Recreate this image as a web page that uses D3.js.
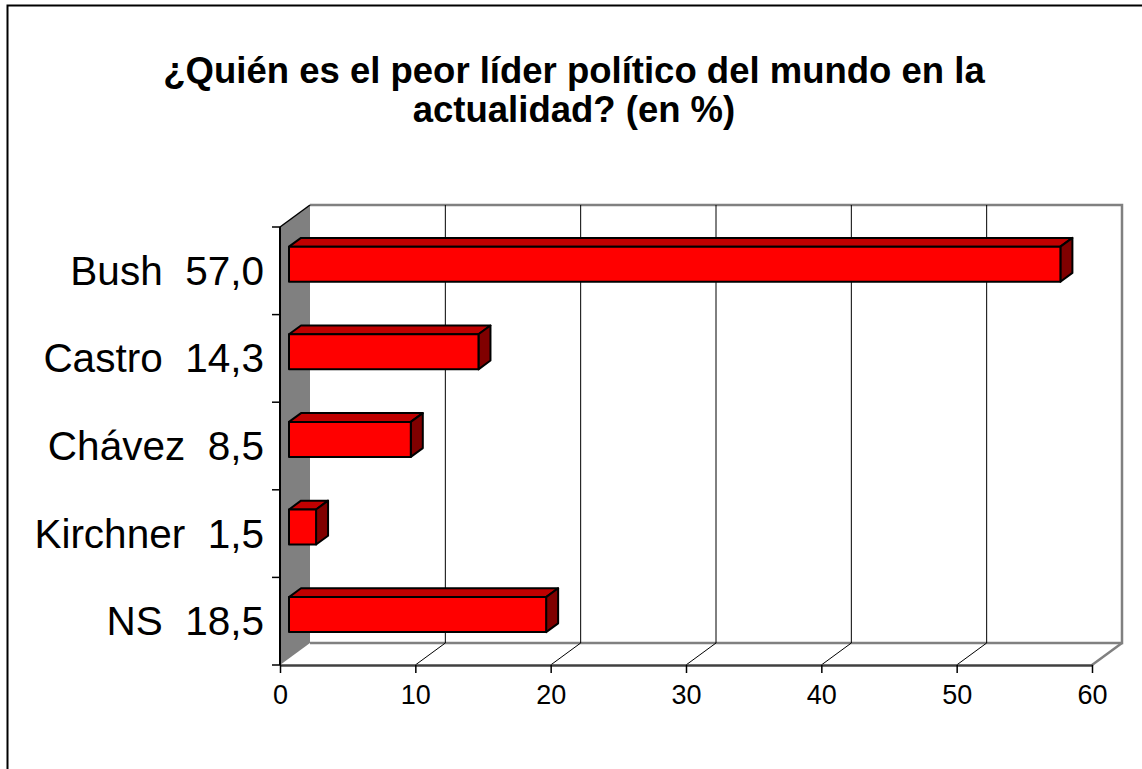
<!DOCTYPE html>
<html lang='es'>
<head>
    <meta charset='UTF-8'>
    <title>Peor líder político</title>
    <style>
        body { margin: 0; background: #fff; }
        svg { display: block; font-family: 'Liberation Sans', Arial, sans-serif; }
        .cat-label { font-size: 40.5px; white-space: pre; }
        .tick text { font-size: 27px; }
    </style>
</head>
<body>
    <div id="chart"></div>
    <script src='https://d3js.org/d3.v7.min.js'></script>
    <script>
        // data
        const categories = ['Bush', 'Castro', 'Chávez', 'Kirchner', 'NS']
        const labelValues = ['57,0', '14,3', '8,5', '1,5', '18,5']
        const barValues = [57, 14, 9, 2, 19]
        const xTicks = [0, 10, 20, 30, 40, 50, 60]
        const titleLines = ['¿Quién es el peor líder político del mundo en la', 'actualidad? (en %)']

        const width = 1142
        const height = 769
        const depth = [30, -22] // offset of back wall vs front plane
        const barFront = 0.3, barBack = 0.7 // bar depth inside the plot box

        const svg = d3.select('#chart').append('svg')
            .attr('width', width)
            .attr('height', height)

        // outer frame
        svg.append('rect')
            .attr('x', 7.5).attr('y', 5.5)
            .attr('width', width + 20).attr('height', height + 20)
            .attr('fill', '#fff').attr('stroke', '#000').attr('stroke-width', 2)

        svg.append('g').selectAll('text')
            .data(titleLines)
            .join('text')
            .attr('x', 574)
            .attr('y', (_, i) => 83 + i * 39)
            .attr('text-anchor', 'middle')
            .attr('font-weight', 'bold')
            .attr('font-size', 36.5)
            .text(d => d)

        const x = d3.scaleLinear().domain([0, 60]).range([280, 1092])
        const y = d3.scaleBand().domain(categories).range([227, 665])
            .paddingInner(0.6).paddingOuter(0.3)

        const x0 = x.range()[0], x1 = x.range()[1]
        const yTop = y.range()[0], yBot = y.range()[1]
        const [dx, dy] = depth
        const pt = (px, py, z) => [px + dx * z, py + dy * z]

        // left wall
        svg.append('polygon')
            .attr('points', [pt(x0, yTop, 0), pt(x0, yTop, 1), pt(x0, yBot, 1), pt(x0, yBot, 0)].join(' '))
            .attr('fill', '#808080')

        // back wall border (gray)
        svg.append('polyline')
            .attr('points', [pt(x0, yTop, 1), pt(x1, yTop, 1), pt(x1, yBot, 1), pt(x0, yBot, 1)].join(' '))
            .attr('fill', 'none').attr('stroke', '#808080').attr('stroke-width', 2.5)

        // floor edges
        svg.append('polyline')
            .attr('points', [pt(x1, yBot, 1), pt(x1, yBot, 0)].join(' '))
            .attr('fill', 'none').attr('stroke', '#808080').attr('stroke-width', 2.5)

        // gridlines on back wall and floor
        const inner = xTicks.filter(t => t > 0 && t < 60)
        svg.append('g').selectAll('line')
            .data(inner)
            .join('line')
            .attr('x1', d => x(d) + dx).attr('x2', d => x(d) + dx)
            .attr('y1', yTop + dy).attr('y2', yBot + dy)
            .attr('stroke', '#000').attr('stroke-width', 1)
        svg.append('g').selectAll('line')
            .data(inner)
            .join('line')
            .attr('x1', d => x(d)).attr('y1', yBot)
            .attr('x2', d => x(d) + dx).attr('y2', yBot + dy)
            .attr('stroke', '#000').attr('stroke-width', 1)

        // left wall top edge
        svg.append('line')
            .attr('x1', x0).attr('y1', yTop)
            .attr('x2', x0 + dx).attr('y2', yTop + dy)
            .attr('stroke', '#000').attr('stroke-width', 1.5)

        // bars
        const bh = y.bandwidth()
        const bars = svg.append('g').selectAll('g')
            .data(categories.map((c, i) => ({ c, v: barValues[i] })))
            .join('g')
            .attr('stroke', '#000').attr('stroke-width', 2).attr('stroke-linejoin', 'round')

        bars.append('polygon') // top face
            .attr('fill', '#c00000')
            .attr('points', d => [pt(x(0), y(d.c), barFront), pt(x(0), y(d.c), barBack),
                pt(x(d.v), y(d.c), barBack), pt(x(d.v), y(d.c), barFront)].join(' '))
        bars.append('polygon') // end face
            .attr('fill', '#800000')
            .attr('points', d => [pt(x(d.v), y(d.c), barFront), pt(x(d.v), y(d.c), barBack),
                pt(x(d.v), y(d.c) + bh, barBack), pt(x(d.v), y(d.c) + bh, barFront)].join(' '))
        bars.append('polygon') // front face
            .attr('fill', '#ff0000')
            .attr('points', d => [pt(x(0), y(d.c), barFront), pt(x(d.v), y(d.c), barFront),
                pt(x(d.v), y(d.c) + bh, barFront), pt(x(0), y(d.c) + bh, barFront)].join(' '))

        // front x axis
        const xAxis = svg.append('g')
            .attr('transform', `translate(0,${yBot})`)
            .call(d3.axisBottom(x).tickValues(xTicks).tickSize(8).tickPadding(12).tickSizeOuter(0))
        xAxis.select('.domain').attr('stroke', '#404040').attr('stroke-width', 2.5)
        xAxis.selectAll('.tick line').attr('stroke', '#000').attr('stroke-width', 1.5)
        xAxis.selectAll('.tick text').attr('fill', '#000').attr('font-family', null).attr('font-size', null)

        // left axis with ticks at category boundaries
        svg.append('line')
            .attr('x1', x0).attr('x2', x0).attr('y1', yTop).attr('y2', yBot)
            .attr('stroke', '#000').attr('stroke-width', 2)
        svg.append('g').selectAll('line')
            .data(d3.range(categories.length + 1))
            .join('line')
            .attr('x1', x0 - 8).attr('x2', x0)
            .attr('y1', i => yTop + i * y.step()).attr('y2', i => yTop + i * y.step())
            .attr('stroke', '#000').attr('stroke-width', 1.5)

        svg.append('g').selectAll('text')
            .data(categories)
            .join('text')
            .attr('class', 'cat-label')
            .attr('x', 264)
            .attr('y', d => y(d) + bh / 2 + 14)
            .attr('text-anchor', 'end')
            .text((d, i) => `${d}  ${labelValues[i]}`)
    </script>
</body>
</html>
